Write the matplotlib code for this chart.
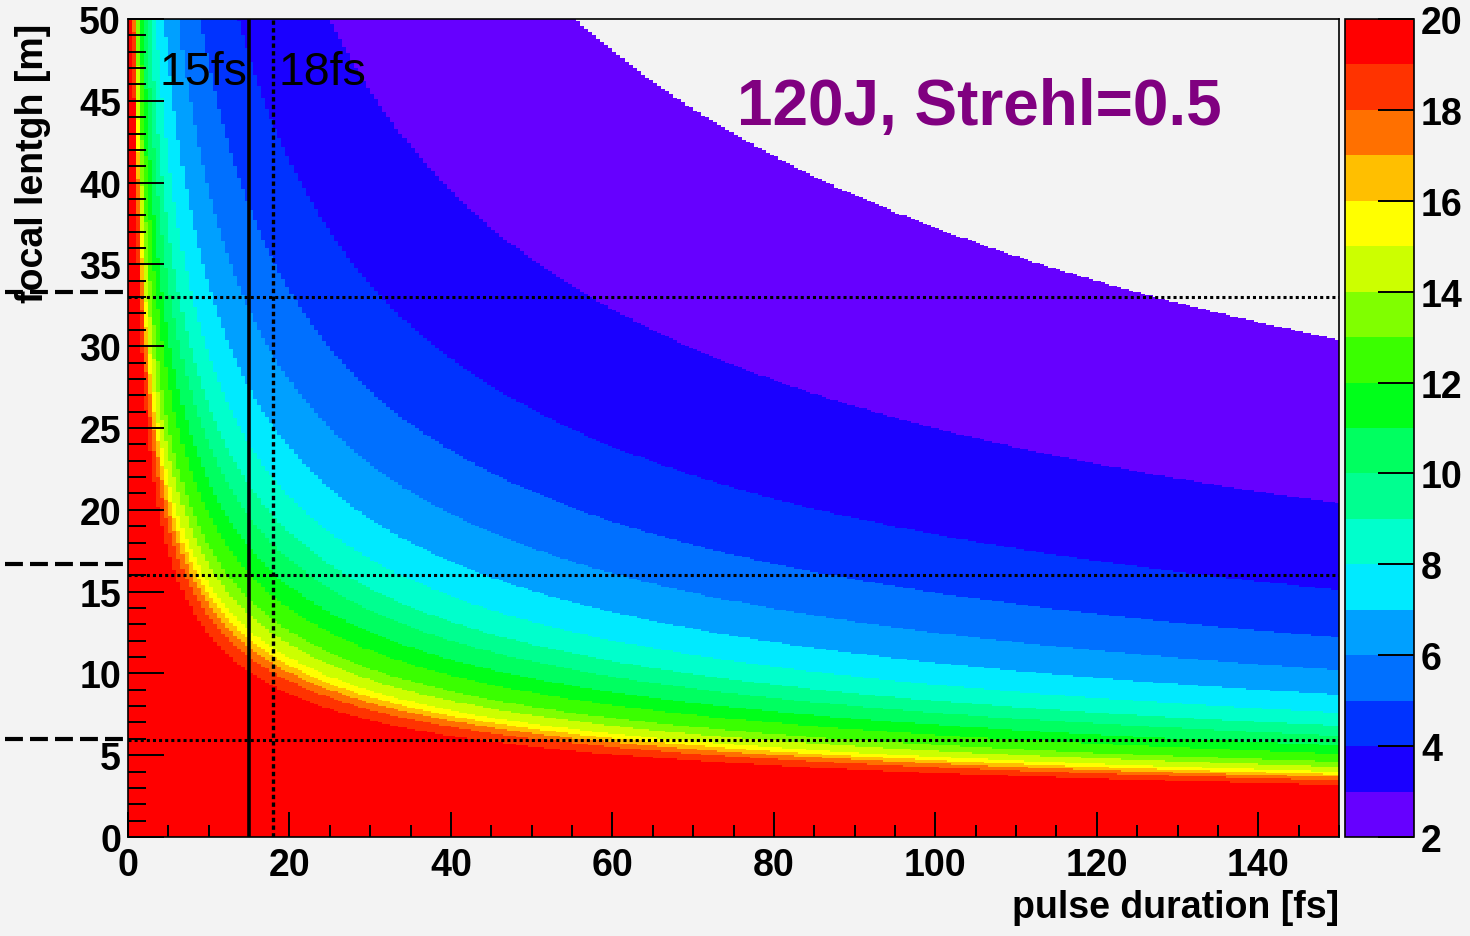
import numpy as np
import matplotlib
matplotlib.use("Agg")
import matplotlib.pyplot as plt
from matplotlib.colors import ListedColormap, BoundaryNorm

plt.rcParams["font.family"] = ["Liberation Sans", "DejaVu Sans"]
plt.rcParams["font.weight"] = "bold"

# colour scale: one band per unit from 2 to 20
levels = np.arange(2, 21)
band_colors = ["#6600ff", "#1a00ff", "#0033ff", "#0070ff", "#00a0ff", "#00eaff",
               "#00ffcc", "#00ff90", "#00ff60", "#00ff1a", "#3aff00", "#80ff00",
               "#ccff00", "#ffff00", "#ffbf00", "#ff7000", "#ff3300", "#ff0000"]

# band edges (focal length in m)
# right edge of the map, 150 fs: edges of levels 2..15
tau_right = 150.0
f_edge_right = [30.4, 20.4, 15.1, 12.2, 10.2, 8.7, 7.6, 6.8, 6.2, 5.6, 5.1, 4.6, 4.3, 4.0]
# along the 15 fs line: edges of levels 16..19
tau_line = 15.0
f_edge_line = [12.1, 11.6, 11.0, 10.1]

# marker lines
tau_solid = 15
tau_dotted = 18
f_dotted = [33.0, 16.0, 5.9]
f_dashed = [33.3, 16.7, 6.0]

# histogram binning
tau_bins = np.linspace(0, 150, 301)
f_bins = np.linspace(0, 50, 501)
tc = 0.5 * (tau_bins[1:] + tau_bins[:-1])
fc = 0.5 * (f_bins[1:] + f_bins[:-1])
T, F = np.meshgrid(tc, fc)

# bands follow curves of constant f*sqrt(tau)
s_edges = np.concatenate([np.array(f_edge_right) * np.sqrt(tau_right),
                          np.array(f_edge_line) * np.sqrt(tau_line)])
s = F * np.sqrt(T)
count = np.searchsorted(-s_edges, -s.ravel()).reshape(s.shape)
z = levels[0] - 1 + count + 0.5
z = np.ma.masked_where(count == 0, z)

bg = "#f3f3f3"
fig = plt.figure(figsize=(14.7, 9.37), dpi=100, facecolor=bg)
ax = fig.add_axes([128 / 1470, 99 / 937, 1211 / 1470, 818 / 937])
ax.set_facecolor(bg)
cax = fig.add_axes([1345 / 1470, 99 / 937, 69 / 1470, 818 / 937])

cmap = ListedColormap(band_colors)
norm = BoundaryNorm(levels, cmap.N)
mesh = ax.pcolormesh(tau_bins, f_bins, z, cmap=cmap, norm=norm, rasterized=True)

ax.set_xlim(0, 150)
ax.set_ylim(0, 50)
ax.set_xticks(np.arange(0, 141, 20))
ax.set_xticks(np.arange(0, 151, 5), minor=True)
ax.set_yticks(np.arange(0, 51, 5))
ax.set_yticks(np.arange(0, 51, 1), minor=True)
ax.tick_params(which="major", direction="in", length=26, width=1.4, labelsize=27)
ax.tick_params(axis="x", which="major", length=18, pad=7)
ax.tick_params(axis="y", which="major", pad=5)
ax.tick_params(which="minor", direction="in", length=13, width=1.4)
ax.tick_params(axis="x", which="minor", length=9)
for sp in ax.spines.values():
    sp.set_linewidth(1.2)

# marker lines
ax.axvline(tau_solid, color="black", lw=2.6)
ax.axvline(tau_dotted, color="black", lw=2.4, linestyle=(0, (1.3, 1.0)))
for f in f_dotted:
    ax.axhline(f, color="black", lw=2.2, linestyle=(0, (1, 1)))
for f in f_dashed:
    ax.plot([-15.2, 0.3], [f, f], color="black", lw=3, linestyle=(0, (4.3, 1.7)),
            clip_on=False)

ax.text(3.9, 46.0, "15fs", fontsize=33.5, fontweight="normal", va="baseline")
ax.text(18.6, 46.0, "18fs", fontsize=33.5, fontweight="normal", va="baseline")
ax.text(105.5, 44.6, "120J, Strehl=0.5", fontsize=46, color="#800080",
        ha="center", va="center")

fig.text(33 / 1470, 1 - 24 / 937, "focal lentgh [m]", rotation=90, ha="center",
         va="top", fontsize=27)
fig.text(1339 / 1470, 1 - 908 / 937, "pulse duration [fs]", ha="right",
         va="center", fontsize=27)

cb = fig.colorbar(mesh, cax=cax, ticks=np.arange(2, 21, 2))
cb.minorticks_off()
cb.outline.set_linewidth(1.2)
cax.tick_params(direction="in", length=26, width=1.4, labelsize=27, pad=5)

fig.savefig("out.png", dpi=100, facecolor=bg)
